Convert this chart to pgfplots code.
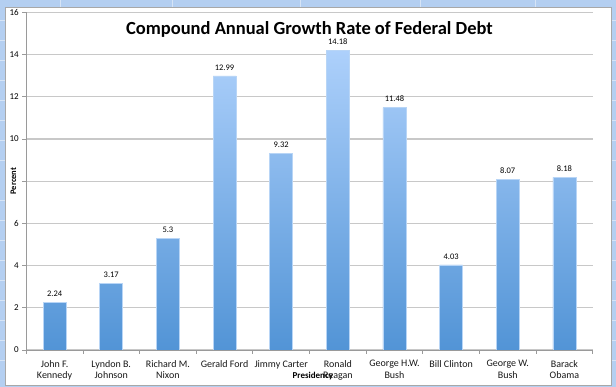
\documentclass[border=0pt]{standalone}
\usepackage{fontspec}
\setmainfont{Carlito}
\usepackage{pgfplots}
\pgfplotsset{compat=1.18}
\definecolor{bgblue}{HTML}{B4CFF1}
\definecolor{bglines}{HTML}{D6E4F6}
\definecolor{framegray}{HTML}{A8A8A8}
\definecolor{gridgray}{HTML}{C8C8C8}
\definecolor{axisgray}{HTML}{9A9A9A}
\definecolor{bartop}{HTML}{ADD0FB}
\definecolor{barbot}{HTML}{5294D6}
\definecolor{baredge}{HTML}{B8D5F6}
\pgfkeys{/pgf/number format/assume math mode=true}
\begin{document}
\begin{tikzpicture}
\fill[bgblue] (0pt,0pt) rectangle (616pt,387pt);
\foreach \yy in {27,47,67,87,107,127,147,167,187,227,247,267,287,307,327,347,367}
  \draw[bglines, line width=0.6pt] (0pt,\yy pt) -- (5pt,\yy pt) (612pt,\yy pt) -- (616pt,\yy pt);
\foreach \xx in {60,172,300,420,536}
  \draw[bglines, line width=0.6pt] (\xx pt,380pt) -- (\xx pt,387pt);
\fill[white, draw=framegray, line width=0.8pt] (5pt,2pt) rectangle (612pt,380pt);
\begin{axis}[
  at={(26pt,37pt)}, anchor=south west,
  scale only axis, width=567pt, height=338pt,
  xmin=-0.5, xmax=9.5, ymin=0, ymax=16,
  ybar, bar width=23pt,
  axis x line*=bottom, axis y line*=left,
  axis line style={draw=axisgray, line width=0.8pt},
  ytick={0,2,...,16},
  yticklabels={0,2,4,6,,10,12,14,16},
  ymajorgrids,
  grid style={draw=gridgray, line width=1.2pt},
  tick align=outside,
  major tick length=4pt,
  tick style={draw=axisgray, line width=0.8pt},
  xtick={-0.5,0.5,...,9.5},
  xticklabels={},
  extra x ticks={0,1,2,3,4,5,6,7,8,9},
  extra x tick labels={John F.\\Kennedy, Lyndon B.\\Johnson, Richard M.\\Nixon, Gerald Ford, Jimmy Carter, Ronald\\Reagan, George H.W.\\Bush, Bill Clinton, George W.\\Bush, Barack\\Obama},
  extra x tick style={grid=none, major tick length=0pt, tick style={draw=none},
    tick label style={font=\fontsize{10}{11.5}\selectfont, align=center, anchor=north, yshift=-7pt, text=black!90}},
  y tick label style={font=\fontsize{9}{10}\selectfont, text=black},
  title={Compound Annual Growth Rate of Federal Debt},
  title style={font=\bfseries\fontsize{18.5}{22}\selectfont, at={(axis description cs:0.5,1)}, anchor=north, yshift=-12pt},
  xlabel={Presidency},
  xlabel style={font=\bfseries\fontsize{9}{10}\selectfont, at={(axis description cs:0.506,0)}, anchor=center, yshift=-26pt},
  nodes near coords,
  every node near coord/.append style={font=\fontsize{8.5}{9}\selectfont, text=black, fill=none, yshift=2pt},
]
\addplot[top color=bartop, bottom color=barbot, draw=baredge, line width=0.6pt]
  coordinates {(0,2.24) (1,3.17) (2,5.3) (3,12.99) (4,9.32) (5,14.18) (6,11.48) (7,4.03) (8,8.07) (9,8.18)};
\end{axis}
\node[font=\bfseries\fontsize{8.5}{9}\selectfont, rotate=90, inner sep=1pt] at (13pt,206pt) {Percent};
\end{tikzpicture}
\end{document}
